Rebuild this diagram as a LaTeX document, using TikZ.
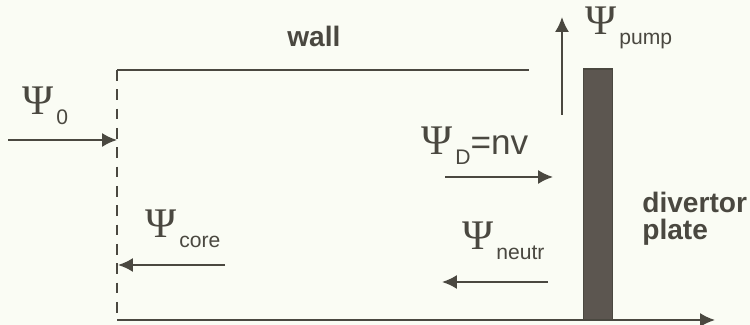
\documentclass[tikz,border=0pt]{standalone}
\usepackage{fontspec}
\setmainfont{Liberation Sans}
\newfontfamily\psifont{Liberation Serif}
\usetikzlibrary{arrows.meta}
\definecolor{ink}{RGB}{74,72,64}
\definecolor{paper}{RGB}{250,252,244}
\definecolor{plategrey}{RGB}{92,86,80}
\newcommand{\fluxlabel}[1]{{\psifont\fontsize{24}{24}\selectfont\char"03A8}\,\raisebox{-5.5pt}{\fontsize{12}{12}\selectfont #1}}

\begin{document}
\begin{tikzpicture}[
    fluxarrow/.style={draw=ink, line width=1.1pt, -{Latex[length=8.5pt,width=8pt]}},
    label/.style={inner sep=0pt, text=ink},
    sidetext/.style={label, font=\bfseries\fontsize{16}{16}\selectfont}
]
        % Hintergrund
        \fill[paper] (0,0) rectangle (15,6.5);
        \useasboundingbox (0,0) rectangle (15,6.5);

        % Ecken
        \coordinate (TopLeft) at (2.34,5.10);
        \coordinate (BotLeft) at (2.34,0.10);
        \coordinate (WallEnd) at (10.58,5.10);
        \coordinate (AxisEnd) at (14.30,0.10);

        % Wand und Achse
        \draw[ink, line width=1.1pt] (TopLeft) -- (WallEnd);
        \draw[ink, line width=1.4pt, dash pattern=on 6pt off 5pt] (TopLeft) -- (BotLeft);
        \draw[fluxarrow] (BotLeft) -- (AxisEnd);

        % Platte
        \fill[plategrey, draw=ink, line width=0.6pt] (11.67,0.10) rectangle (12.25,5.12);

        % Beschriftungen
        \node[sidetext, anchor=base west] (wall) at (5.74,5.56) {wall};
        \node[sidetext, anchor=base west] (divertor) at (12.84,2.24) {divertor};
        \node[sidetext, anchor=base west] (plate) at (12.84,1.70) {plate};
        \node[label, anchor=base west] (psi0) at (0.44,4.20) {\fluxlabel{0}};
        \node[label, anchor=base west] (psipump) at (11.70,5.80) {\fluxlabel{pump}};
        \node[label, anchor=base west] (psiD) at (8.42,3.40)
            {\fluxlabel{D}{\fontsize{20}{20}\selectfont =nv}};
        \node[label, anchor=base west] (psicore) at (2.90,1.74) {\fluxlabel{core}};
        \node[label, anchor=base west] (psineutr) at (9.24,1.50) {\fluxlabel{neutr}};

        % Pfeile
        \coordinate (InStart) at (0.16,3.70);
        \coordinate (InEnd) at (2.34,3.70);
        \draw[fluxarrow] (InStart) -- (InEnd);
        \coordinate (PumpStart) at (11.24,4.20);
        \coordinate (PumpEnd) at (11.24,6.16);
        \draw[fluxarrow] (PumpStart) -- (PumpEnd);
        \coordinate (DStart) at (8.90,2.96);
        \coordinate (DEnd) at (11.06,2.96);
        \draw[fluxarrow] (DStart) -- (DEnd);
        \coordinate (CoreStart) at (4.50,1.20);
        \coordinate (CoreEnd) at (2.36,1.20);
        \draw[fluxarrow] (CoreStart) -- (CoreEnd);
        \coordinate (NeutrStart) at (10.96,0.86);
        \coordinate (NeutrEnd) at (8.84,0.86);
        \draw[fluxarrow] (NeutrStart) -- (NeutrEnd);
\end{tikzpicture}
\end{document}
